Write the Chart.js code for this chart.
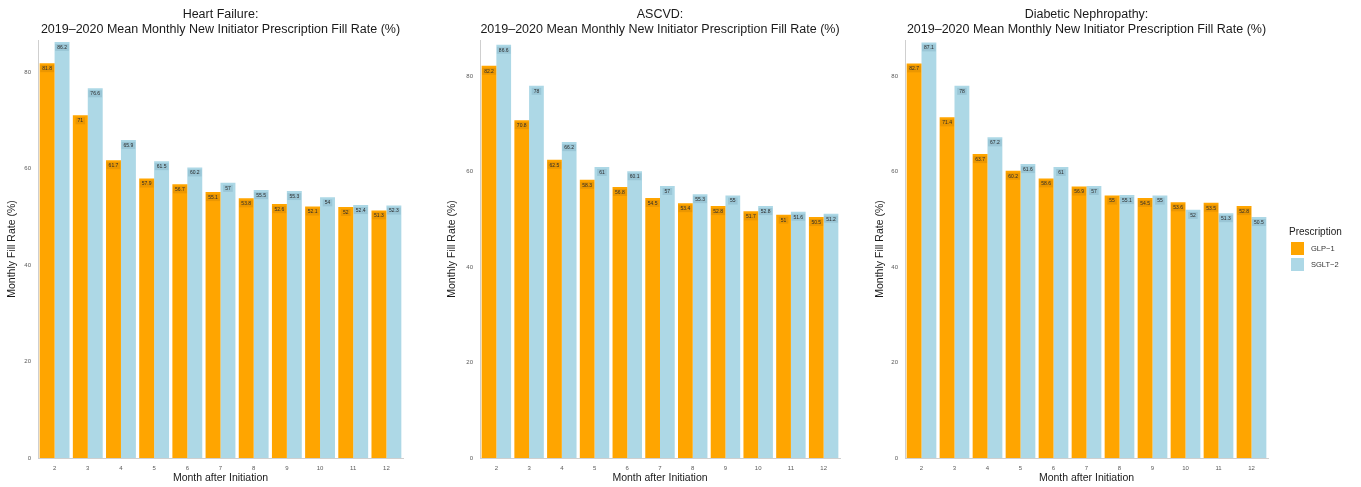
<!DOCTYPE html>
<html>
<head>
<meta charset="utf-8">
<title>New Initiator Prescription Fill Rate</title>
<script src="https://cdn.jsdelivr.net/npm/chart.js@4.4.0/dist/chart.umd.min.js"></script>
<style>
  html, body { margin: 0; padding: 0; background: #ffffff; }
  #wrap { position: relative; width: 1361px; height: 487px; overflow: hidden; background: #ffffff; }
  #wrap canvas { position: absolute; top: 0; }
</style>
</head>
<body>
<div id="wrap">
  <canvas id="hf" width="412" height="487" style="left:0px"></canvas>
  <canvas id="ascvd" width="410" height="487" style="left:440px"></canvas>
  <canvas id="dn" width="493" height="487" style="left:868px"></canvas>
</div>
<script>
// Months after initiation (x categories)
const months = ['2', '3', '4', '5', '6', '7', '8', '9', '10', '11', '12'];
const yTicks = [0, 20, 40, 60, 80];
const seriesNames = ['GLP\u22121', 'SGLT\u22122'];

// Heart Failure
const hfGlp  = [81.8, 71.0, 61.7, 57.9, 56.7, 55.1, 53.8, 52.6, 52.1, 52.0, 51.3];
const hfSglt = [86.2, 76.6, 65.9, 61.5, 60.2, 57.0, 55.5, 55.3, 54, 52.4, 52.3];

// ASCVD
const ascvdGlp  = [82.2, 70.8, 62.5, 58.3, 56.8, 54.5, 53.4, 52.8, 51.7, 51.0, 50.5];
const ascvdSglt = [86.6, 78, 66.2, 61.0, 60.1, 57.0, 55.3, 55.0, 52.8, 51.6, 51.2];

// Diabetic Nephropathy
const dnGlp  = [82.7, 71.4, 63.7, 60.2, 58.6, 56.9, 55.0, 54.5, 53.6, 53.5, 52.8];
const dnSglt = [87.1, 78, 67.2, 61.6, 61, 57.0, 55.1, 55, 52, 51.3, 50.5];

const COLORS = ['#FFA500', '#ADD8E6'];
const FONT = '"Liberation Sans", Arial, Helvetica, sans-serif';

// Two-line panel heading centred over the plotting area
const panelTitle = {
  id: 'panelTitle',
  afterDraw(chart, args, opts) {
    const { ctx, chartArea } = chart;
    const cx = (chartArea.left + chartArea.right) / 2;
    ctx.save();
    ctx.fillStyle = '#1a1a1a';
    ctx.font = '12.5px ' + FONT;
    ctx.textAlign = 'center';
    ctx.textBaseline = 'middle';
    opts.lines.forEach((t, i) => ctx.fillText(t, cx, 15 + i * 15));
    ctx.restore();
  }
};

// Value text at the top of every bar
const barValues = {
  id: 'barValues',
  afterDatasetsDraw(chart) {
    const { ctx } = chart;
    ctx.save();
    ctx.font = '5px ' + FONT;
    ctx.textAlign = 'center';
    ctx.textBaseline = 'middle';
    chart.data.datasets.forEach((ds, di) => {
      const meta = chart.getDatasetMeta(di);
      meta.data.forEach((bar, i) => {
        const txt = String(Math.round(ds.data[i] * 10) / 10);
        const w = ctx.measureText(txt).width + 4;
        ctx.fillStyle = di === 0 ? 'rgba(150,90,0,0.18)' : 'rgba(40,90,120,0.14)';
        ctx.fillRect(bar.x - w / 2, bar.y + 2, w, 7);
        ctx.fillStyle = '#2b2b2b';
        ctx.fillText(txt, bar.x, bar.y + 5.5);
      });
    });
    ctx.restore();
  }
};

// Legend block to the right of the last panel
const sideLegend = {
  id: 'sideLegend',
  afterDraw(chart, args, opts) {
    if (!opts.show) return;
    const { ctx } = chart;
    const x0 = opts.x, y0 = opts.y;
    ctx.save();
    ctx.textBaseline = 'middle';
    ctx.textAlign = 'left';
    ctx.fillStyle = '#1a1a1a';
    ctx.font = '10px ' + FONT;
    ctx.fillText('Prescription', x0 - 2, y0);
    seriesNames.forEach((name, i) => {
      const y = y0 + 10 + i * 16;
      ctx.fillStyle = COLORS[i];
      ctx.fillRect(x0, y, 13, 13);
      ctx.fillStyle = '#333333';
      ctx.font = '7.5px ' + FONT;
      ctx.fillText(name, x0 + 20, y + 6.5);
    });
    ctx.restore();
  }
};

function makePanel(id, heading, glp, sglt, yMax, yWidth, padRight, legend) {
  const el = document.getElementById(id);
  return new Chart(el, {
    type: 'bar',
    data: {
      labels: months,
      datasets: [
        { label: seriesNames[0], data: glp, backgroundColor: COLORS[0], borderWidth: 0 },
        { label: seriesNames[1], data: sglt, backgroundColor: COLORS[1], borderWidth: 0 }
      ]
    },
    options: {
      responsive: false,
      animation: false,
      events: [],
      layout: { padding: { top: 40, right: padRight, bottom: 0, left: 0 } },
      datasets: { bar: { barPercentage: 1.0, categoryPercentage: 0.9 } },
      scales: {
        x: {
          offset: true,
          grid: { display: false, drawTicks: true, tickLength: 3, tickColor: '#bdbdbd' },
          border: { display: true, color: '#cfcfcf', width: 1 },
          ticks: { color: '#5a5a5a', font: { family: FONT, size: 6 }, padding: 4, maxRotation: 0 },
          title: { display: true, text: 'Month after Initiation', color: '#1a1a1a',
                   font: { family: FONT, size: 10.5 }, padding: { top: 0, bottom: 3 } },
          afterFit(s) { s.height = 29; }
        },
        y: {
          min: 0,
          max: yMax,
          grid: { display: false, drawTicks: true, tickLength: 3, tickColor: '#bdbdbd' },
          border: { display: true, color: '#cfcfcf', width: 1 },
          ticks: { color: '#5a5a5a', font: { family: FONT, size: 6 }, padding: 4 },
          afterBuildTicks(s) { s.ticks = yTicks.map(v => ({ value: v })); },
          title: { display: true, text: 'Monthly Fill Rate (%)', color: '#1a1a1a',
                   font: { family: FONT, size: 10.5 }, padding: { top: 6, bottom: 0 } },
          afterFit(s) { s.width = yWidth; }
        }
      },
      plugins: {
        legend: { display: false },
        tooltip: { enabled: false },
        panelTitle: { lines: heading },
        sideLegend: legend || { show: false }
      }
    },
    plugins: [panelTitle, barValues, sideLegend]
  });
}

const subtitle = '2019\u20132020 Mean Monthly New Initiator Prescription Fill Rate (%)';
makePanel('hf', ['Heart Failure:', subtitle], hfGlp, hfSglt, 86.6, 38, 9);
makePanel('ascvd', ['ASCVD:', subtitle], ascvdGlp, ascvdSglt, 87.6, 40, 10);
makePanel('dn', ['Diabetic Nephropathy:', subtitle], dnGlp, dnSglt, 87.6, 37, 93,
          { show: true, x: 423, y: 232 });
</script>
</body>
</html>
